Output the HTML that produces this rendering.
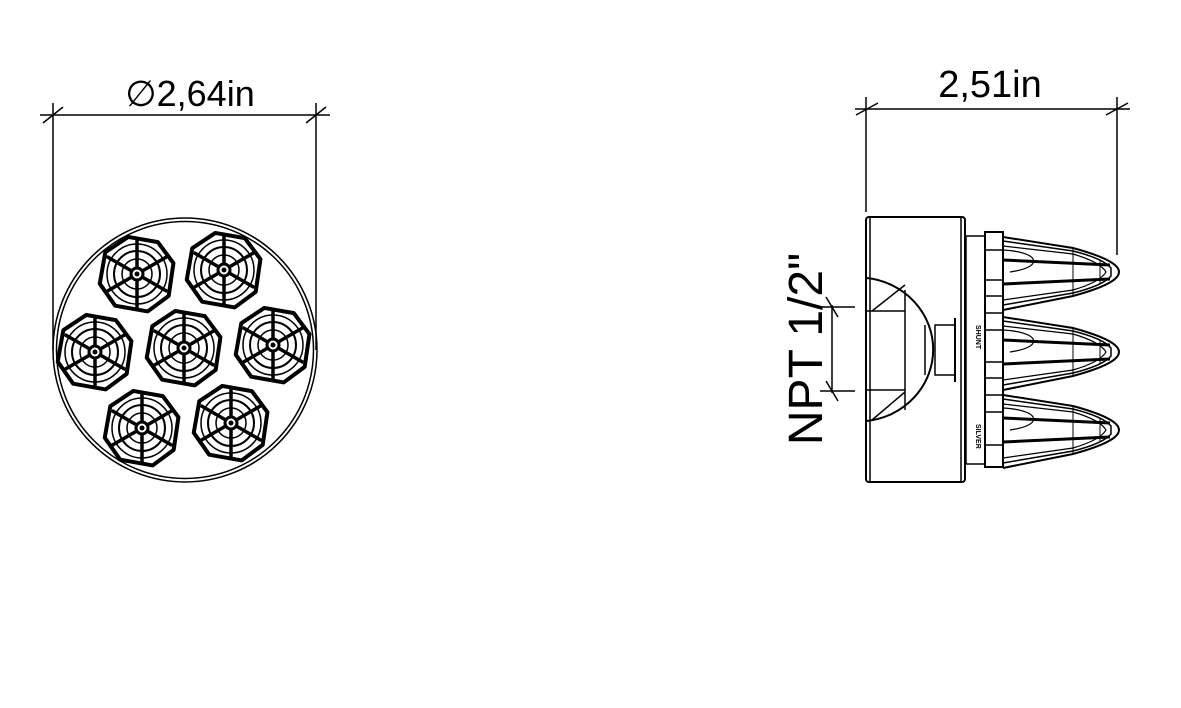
<!DOCTYPE html>
<html><head><meta charset="utf-8"><style>html,body{margin:0;padding:0;background:#fff}svg{display:block}</style></head>
<body>
<svg width="1181" height="708" viewBox="0 0 1181 708" xmlns="http://www.w3.org/2000/svg" font-family="Liberation Sans, sans-serif">
<defs>
<g id="nz" fill="none" stroke="#000">
<polygon points="-15,-35 15,-35 34,-17 35,16 17,35 -16,35 -35,16 -35,-16" stroke-width="4" stroke-linejoin="round" transform="rotate(10)"/>
<circle r="30" stroke-width="1.5"/>
<circle r="23" stroke-width="2"/>
<circle r="15" stroke-width="1.5"/>
<g stroke-width="3.5">
<line x1="0" y1="-6" x2="0" y2="-35"/>
<line x1="0" y1="-6" x2="0" y2="-35" transform="rotate(60)"/>
<line x1="0" y1="-6" x2="0" y2="-35" transform="rotate(120)"/>
<line x1="0" y1="-6" x2="0" y2="-35" transform="rotate(180)"/>
<line x1="0" y1="-6" x2="0" y2="-35" transform="rotate(240)"/>
<line x1="0" y1="-6" x2="0" y2="-35" transform="rotate(300)"/>
</g>
<circle r="6" stroke-width="3"/>
<circle r="2" fill="#000"/>
</g>
<g id="cone" fill="none" stroke="#000" stroke-width="2">
<path d="M1003,-35 L1073,-24 C1095,-18 1110,-12 1116,-6 C1120,-2 1120,2 1116,6 C1110,12 1095,18 1073,24 L1003,38"/>
<path d="M1003,-31 L1073,-21 C1093,-16 1106,-10 1111,-4 L1111,4 C1106,10 1093,16 1073,21 L1003,33" stroke-width="1.5"/>
<path d="M1003,-26 L1073,-18 C1090,-13 1102,-7 1106,0 C1102,7 1090,13 1073,18 L1003,28" stroke-width="1.2"/>
<line x1="1003" y1="-12" x2="1110" y2="-7" stroke-width="3"/>
<line x1="1003" y1="12" x2="1110" y2="7" stroke-width="3"/>
<line x1="1073" y1="-24" x2="1073" y2="24" stroke-width="1"/>
<line x1="1100" y1="-12" x2="1100" y2="12" stroke-width="1"/>
<path d="M1003,-22 C1040,-20 1045,-5 1010,0" stroke-width="1.2"/>
</g>
</defs>

<!-- Left view -->
<g stroke="#000" fill="none">
<line x1="53" y1="103" x2="53" y2="350" stroke-width="1.5"/>
<line x1="316" y1="103" x2="316" y2="350" stroke-width="1.5"/>
<line x1="40" y1="115" x2="330" y2="115" stroke-width="1.5"/>
<line x1="43" y1="123" x2="63" y2="107" stroke-width="1.5"/>
<line x1="306" y1="123" x2="326" y2="107" stroke-width="1.5"/>
<circle cx="185" cy="350" r="132" stroke-width="1.5"/>
<circle cx="185" cy="350" r="128.5" stroke-width="1.5"/>
</g>
<text x="190" y="106" font-size="36" text-anchor="middle">∅2,64in</text>
<use href="#nz" x="137" y="274"/>
<use href="#nz" x="224" y="270"/>
<use href="#nz" x="95" y="352"/>
<use href="#nz" x="184" y="348"/>
<use href="#nz" x="273" y="345"/>
<use href="#nz" x="142" y="428"/>
<use href="#nz" x="231" y="423"/>

<!-- Right view -->
<text x="990" y="97" font-size="38" text-anchor="middle">2,51in</text>
<g stroke="#000" fill="none" stroke-width="1.5">
<line x1="855" y1="109" x2="1130" y2="109"/>
<line x1="856" y1="115" x2="878" y2="103"/>
<line x1="1106" y1="115" x2="1128" y2="103"/>
<line x1="866" y1="97" x2="866" y2="212"/>
<line x1="1117" y1="97" x2="1117" y2="255"/>

<rect x="866" y="217" width="99" height="265" rx="3" stroke-width="2"/>
<line x1="870" y1="218" x2="870" y2="481"/>
<line x1="961" y1="218" x2="961" y2="481"/>
<path d="M867,278 A75,72 0 0 1 867,421" stroke-width="2"/>
<line x1="867" y1="311" x2="905" y2="311"/>
<line x1="867" y1="390" x2="905" y2="390"/>
<line x1="905" y1="290" x2="905" y2="410"/>
<line x1="872" y1="311" x2="905" y2="285"/>
<line x1="872" y1="420" x2="905" y2="392"/>
<line x1="925" y1="325" x2="925" y2="375"/>
<rect x="935" y="325" width="20" height="50"/>
<line x1="955" y1="318" x2="955" y2="382" stroke-width="2"/>

<rect x="966" y="236" width="19" height="228"/>
<rect x="985" y="232" width="18" height="235" stroke-width="2"/>
<line x1="985" y1="250" x2="1003" y2="250"/>
<line x1="985" y1="280" x2="1003" y2="280"/>
<line x1="985" y1="296" x2="1003" y2="296"/>
<line x1="985" y1="313" x2="1003" y2="313"/>
<line x1="985" y1="330" x2="1003" y2="330"/>
<line x1="985" y1="362" x2="1003" y2="362"/>
<line x1="985" y1="378" x2="1003" y2="378"/>
<line x1="985" y1="395" x2="1003" y2="395"/>
<line x1="985" y1="412" x2="1003" y2="412"/>
<line x1="985" y1="445" x2="1003" y2="445"/>
</g>
<use href="#cone" x="0" y="272"/>
<use href="#cone" x="0" y="352"/>
<use href="#cone" x="0" y="430"/>
<text x="0" y="0" font-size="7" font-weight="bold" transform="translate(976,325) rotate(90)">SHUNT</text>
<text x="0" y="0" font-size="7" font-weight="bold" transform="translate(976,424) rotate(90)">SILVER</text>

<g stroke="#000" fill="none" stroke-width="1.5">
<line x1="832" y1="305" x2="832" y2="393"/>
<line x1="820" y1="307" x2="855" y2="307"/>
<line x1="820" y1="391" x2="855" y2="391"/>
<line x1="826" y1="297" x2="838" y2="317"/>
<line x1="826" y1="381" x2="838" y2="401"/>
</g>
<text x="0" y="0" font-size="48" text-anchor="middle" transform="translate(822,349) rotate(-90)">NPT 1/2"</text>
</svg>
</body></html>
